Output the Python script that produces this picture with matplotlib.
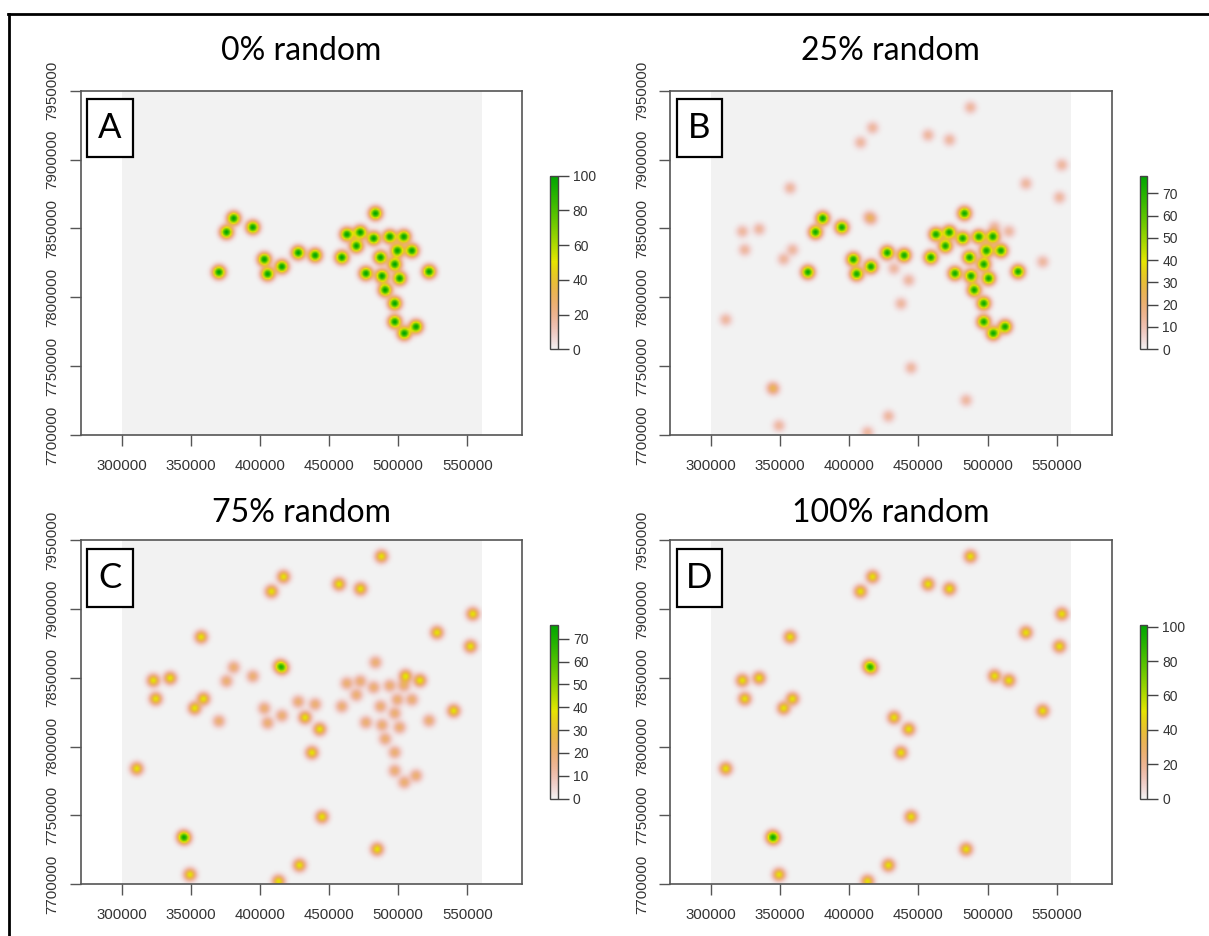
import numpy as np
import matplotlib
matplotlib.use('Agg')
import matplotlib.pyplot as plt
from matplotlib.colors import ListedColormap, hsv_to_rgb
from matplotlib.patches import Rectangle
from matplotlib.lines import Line2D

# clustered occurrence points (UTM easting / northing)
cluster_x = [370000, 375500, 380700, 394500, 402800, 405200, 415500, 427300, 439500, 458800,
             462400, 472100, 469300, 481800, 483100, 476200, 486700, 487800, 490100, 493400,
             503600, 498900, 509400, 497000, 500500, 497000, 497000, 503900, 512400, 521800]
cluster_y = [7818000, 7847000, 7857000, 7850500, 7827300, 7816700, 7822000, 7832100, 7830200, 7828700,
             7845400, 7846900, 7837000, 7842500, 7860600, 7817100, 7828700, 7815200, 7805100, 7843700,
             7843700, 7833600, 7833600, 7823700, 7813500, 7795400, 7782100, 7773700, 7778500, 7818400]

# randomly placed points
random_x = [487400, 416700, 408000, 456800, 472300, 553400, 527500, 551700, 357200, 414000,
            416000, 322700, 334800, 324400, 358900, 352500, 504800, 515200, 539600, 432200,
            442800, 437200, 310700, 444500, 344300, 345300, 484300, 428200, 349100, 413100]
random_y = [7937400, 7922600, 7912000, 7917300, 7913900, 7895700, 7882200, 7872200, 7879000, 7858000,
            7856500, 7847500, 7849200, 7834200, 7834200, 7827400, 7850700, 7847500, 7825500, 7820600,
            7812200, 7795200, 7783600, 7748700, 7734200, 7733300, 7725200, 7713600, 7706800, 7701900]

titles = ['0% random', '25% random', '75% random', '100% random']
letters = ['A', 'B', 'C', 'D']
cluster_weight = [100, 75, 20, 0]
random_weight = [0, 13, 38, 50]
legend_max = [100, 78, 76, 101]
legend_ticks = [[0, 20, 40, 60, 80, 100], list(range(0, 80, 10)),
                list(range(0, 80, 10)), [0, 20, 40, 60, 80, 100]]

extent = (300000, 560000, 7700000, 7950000)
sigma = 2900
cell = 1000


def terrain_colors(n):
    # same ramp as R's terrain.colors()
    k = n // 2
    h1 = np.linspace(4 / 12, 2 / 12, k)
    s1 = np.ones(k)
    v1 = np.linspace(0.65, 0.9, k)
    h2 = np.linspace(2 / 12, 0, n - k + 1)[1:]
    s2 = np.linspace(1, 0, n - k + 1)[1:]
    v2 = np.linspace(0.9, 0.95, n - k + 1)[1:]
    hsv = np.column_stack([np.r_[h1, h2], np.r_[s1, s2], np.r_[v1, v2]])
    return hsv_to_rgb(hsv)


cmap = ListedColormap(terrain_colors(255)[::-1])

gx = np.arange(extent[0] + cell / 2, extent[1], cell)
gy = np.arange(extent[2] + cell / 2, extent[3], cell)
GX, GY = np.meshgrid(gx, gy)


def surface(wc, wr):
    z = np.zeros_like(GX)
    for xs, ys, w in [(cluster_x, cluster_y, wc), (random_x, random_y, wr)]:
        if w == 0:
            continue
        for x, y in zip(xs, ys):
            z += w * np.exp(-((GX - x) ** 2 + (GY - y) ** 2) / (2 * sigma ** 2))
    return z


W, H = 1209, 936
fig = plt.figure(figsize=(W / 100, H / 100), dpi=100)


def px(left, top, w, h):
    return [left / W, 1 - (top + h) / H, w / W, h / H]


# panel frames in pixels: left, top
origins = [(80.5, 90.7), (670, 90.7), (80.5, 540), (670, 540)]
ax_w, ax_h = 441.5, 344.3
title_base = [60, 60, 522, 522]

xscale = 345.8 / 250000
xlim = (300000 - 41 / xscale, 300000 + (ax_w - 41) / xscale)

tick_col = '#333333'
line_col = '#555555'

for i in range(4):
    left, top = origins[i]
    ax = fig.add_axes(px(left, top, ax_w, ax_h))
    z = surface(cluster_weight[i], random_weight[i])
    im = ax.imshow(z, origin='lower', extent=extent, cmap=cmap, vmin=0,
                   vmax=legend_max[i], interpolation='bilinear', aspect='auto')
    ax.set_xlim(xlim)
    ax.set_ylim(7700000, 7950000)
    ax.set_xticks(range(300000, 550001, 50000))
    ax.set_yticks(range(7700000, 7950001, 50000))
    ax.set_xticklabels([str(v) for v in range(300000, 550001, 50000)])
    ax.set_yticklabels([str(v) for v in range(7700000, 7950001, 50000)],
                       rotation=90, va='center')
    ax.tick_params(length=8, width=1, color=line_col, labelcolor=tick_col,
                   labelsize=10.8, labelfontfamily='Liberation Sans')
    ax.tick_params(axis='x', pad=9)
    ax.tick_params(axis='y', pad=7)
    for sp in ax.spines.values():
        sp.set_color(line_col)
        sp.set_linewidth(1.2)

    fig.text((left + ax_w / 2) / W, 1 - title_base[i] / H, titles[i],
             ha='center', va='baseline', fontsize=23, family='Lato')

    # panel letter box
    box = px(left + 6.8, top + 8.6, 45.4, 58)
    fig.add_artist(Rectangle((box[0], box[1]), box[2], box[3], transform=fig.transFigure,
                             facecolor='white', edgecolor='black', linewidth=1.6))
    fig.text(box[0] + box[2] / 2, box[1] + box[3] / 2, letters[i], ha='center',
             va='center', fontsize=25, family='Lato')

    # legend bar
    cb_top = top + 85
    cax = fig.add_axes(px(left + ax_w + 28, cb_top, 7.5, 173.5))
    cb = fig.colorbar(im, cax=cax)
    cb.set_ticks(legend_ticks[i])
    cb.outline.set_edgecolor('#444444')
    cb.outline.set_linewidth(1)
    cax.tick_params(length=8, width=1, color='#444444', labelcolor=tick_col,
                    labelsize=10, pad=3, labelfontfamily='Liberation Sans')

# page border (top and left edges)
fig.add_artist(Line2D([8 / W, 1], [1 - 14 / H, 1 - 14 / H], transform=fig.transFigure,
                      color='black', linewidth=2))
fig.add_artist(Line2D([9 / W, 9 / W], [0, 1 - 14 / H], transform=fig.transFigure,
                      color='black', linewidth=2))

fig.savefig('out.png', dpi=100)
